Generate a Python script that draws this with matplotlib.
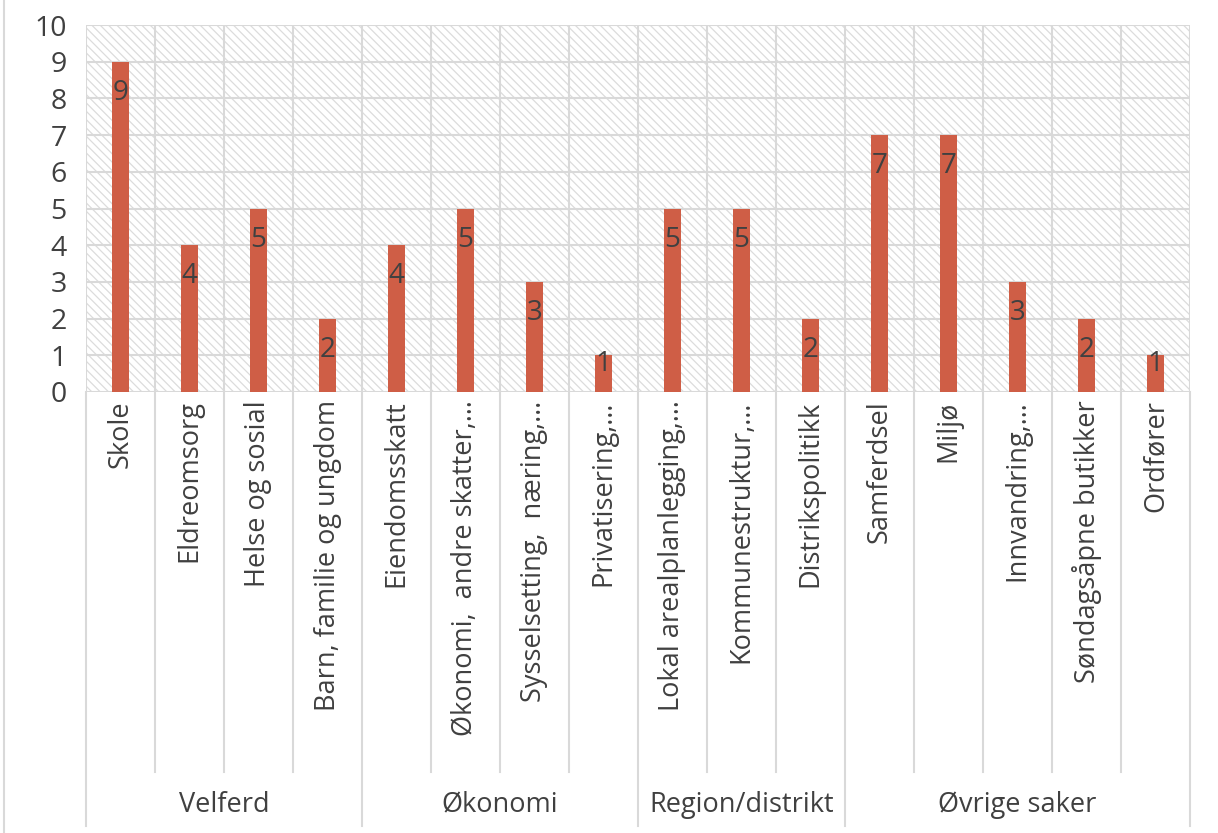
from matplotlib import pyplot as plt
from matplotlib.patches import Rectangle
from matplotlib.lines import Line2D
import matplotlib.transforms as mtransforms
import numpy as np

plt.rcParams['font.family'] = ['Open Sans', 'DejaVu Sans']
plt.rcParams['hatch.linewidth'] = 0.9

categories = ["Skole", "Eldreomsorg", "Helse og sosial", "Barn, familie og ungdom",
              "Eiendomsskatt", "Økonomi,  andre skatter,…", "Sysselsetting,  næring,…",
              "Privatisering,…", "Lokal arealplanlegging,…", "Kommunestruktur,…",
              "Distrikspolitikk", "Samferdsel", "Miljø", "Innvandring,…",
              "Søndagsåpne butikker", "Ordfører"]
values = [9, 4, 5, 2, 4, 5, 3, 1, 5, 5, 2, 7, 7, 3, 2, 1]
groups = ["Velferd", "Økonomi", "Region/distrikt", "Øvrige saker"]
group_sizes = [4, 4, 3, 5]

n = len(categories)
textcol = '#404040'
barcol = '#cf5e46'
gridcol = '#d9d9d9'

fig = plt.figure(figsize=(12.18, 8.33), dpi=100)
ax = fig.add_axes([86/1218, 1-392/833, (1190-86)/1218, (392-25)/833])

x = np.arange(n)
ax.bar(x, values, width=0.26, color=barcol, zorder=3)
ax.set_xlim(-0.5, n-0.5)
ax.set_ylim(0, 10)

# --- hatched plot area + grid
ax.add_patch(Rectangle((0, 0), 1, 1, transform=ax.transAxes, facecolor='white',
                       hatch='\\\\\\\\', edgecolor='#dcdcdc', lw=0, zorder=0))
for y in range(0, 11):
    ax.axhline(y, color=gridcol, lw=1.5, zorder=1)
for b in np.arange(-0.5, n, 1.0):
    ax.axvline(b, color=gridcol, lw=1.5, zorder=1)
for s in ax.spines.values():
    s.set_visible(False)

ax.set_yticks(range(0, 11))
ax.set_yticklabels([str(v) for v in range(0, 11)], fontsize=20.5, color=textcol)
ax.tick_params(axis='y', length=0, pad=14)

ax.set_xticks(x)
ax.set_xticklabels(categories, rotation=90, fontsize=19.5, color=textcol, va='top', ha='center')
ax.tick_params(axis='x', length=0, pad=6)

# --- value labels inside bar tops
for xi, v in zip(x, values):
    yy = v - 0.85 if v > 1.5 else v - 0.24
    ax.text(xi, yy, str(v), ha='center', va='center', fontsize=20, color=textcol, zorder=4)

# --- separators and group names below the axis
trans = mtransforms.blended_transform_factory(ax.transData, ax.transAxes)
bounds = np.cumsum([0] + group_sizes) - 0.5
for b in np.arange(-0.5, n, 1.0):
    bottom = -1.183 if np.any(np.isclose(bounds, b)) else -1.035
    ax.add_line(Line2D([b, b], [0, bottom], transform=trans, color=gridcol, lw=1.5, clip_on=False))

start = 0
for g, sz in zip(groups, group_sizes):
    ax.text(start + sz/2 - 0.5, -1.125, g, transform=trans, ha='center', va='center',
            fontsize=19.5, color=textcol)
    start += sz

fig.add_artist(Line2D([4/1218, 4/1218], [0, 1], transform=fig.transFigure, color=gridcol, lw=1.5))

plt.savefig('out.png', dpi=100)
